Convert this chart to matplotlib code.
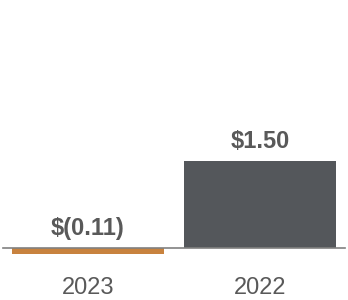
import matplotlib
matplotlib.use("Agg")
import matplotlib.pyplot as plt

years = ["2023", "2022"]
values = [-0.11, 1.50]
labels = ["$(0.11)", "$1.50"]
colors = ["#C8823E", "#54575B"]

text_color = "#595959"
plt.rcParams['font.family'] = ['Liberation Sans', 'DejaVu Sans']

fig = plt.figure(figsize=(3.48, 3.00), dpi=100)
ax = fig.add_axes([3 / 348, 1 - 256 / 300, 342 / 348, 256 / 300])

x = list(range(len(years)))
ax.bar(x, values, width=0.88, color=colors, zorder=1)

for xi, v, lab in zip(x, values, labels):
    ax.annotate(lab, (xi, max(v, 0)), xytext=(0, 6), textcoords="offset points",
                ha="center", va="bottom", fontsize=17, fontweight="bold",
                color=text_color)

ax.set_xlim(-0.49, 1.49)
ax.set_ylim(-(256 - 248) / 58, 248 / 58)

for s in ["top", "right", "left"]:
    ax.spines[s].set_visible(False)
ax.spines["bottom"].set_position(("data", 0))
ax.spines["bottom"].set_color("#808080")
ax.spines["bottom"].set_linewidth(1.2)
ax.spines["bottom"].set_zorder(3)

ax.set_xticks(x)
ax.set_xticklabels(years)
ax.tick_params(axis="x", length=0, pad=21, labelsize=17, labelcolor=text_color)
ax.set_yticks([])
ax.patch.set_visible(False)

fig.savefig("out.png", dpi=100)
